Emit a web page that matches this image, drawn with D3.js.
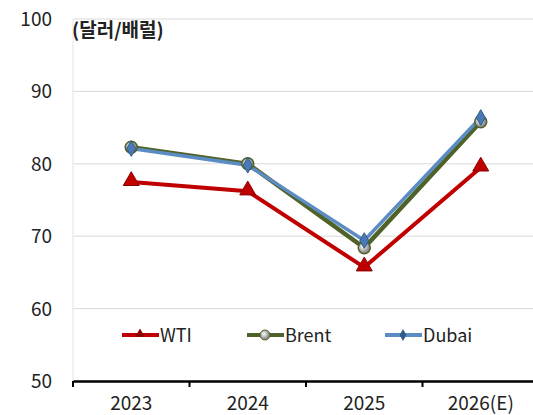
<!DOCTYPE html>
<html>
<head>
<meta charset="utf-8">
<script src="https://cdn.jsdelivr.net/npm/d3@7"></script>
<style>
  body { margin: 0; background: #fff; }
  text { font-family: "Noto Sans CJK KR", "Noto Sans", sans-serif; fill: #222; }
</style>
</head>
<body>
<svg id="ch" width="533" height="415"></svg>
<script>
var years = ["2023", "2024", "2025", "2026(E)"];
var wti   = [77.5, 76.2, 65.7, 79.5];
var brent = [82.3, 80.0, 68.4, 85.8];
var dubai = [82.1, 79.8, 69.4, 86.4];
var yTicks = [50, 60, 70, 80, 90, 100];
var unitLabel = "(달러/배럴)";

var svg = d3.select("#ch");
var pLeft = 73, pRight = 539, pTop = 19, pBottom = 381;

var x = d3.scaleBand().domain(years).range([pLeft, pRight]);
var y = d3.scaleLinear().domain([50, 100]).range([pBottom, pTop]);

// grid
svg.selectAll(".grid").data(yTicks.slice(1)).enter().append("line")
  .attr("x1", pLeft).attr("x2", 533)
  .attr("y1", function (d) { return y(d); }).attr("y2", function (d) { return y(d); })
  .style("stroke", "#d9d9d9").style("stroke-width", 1);
svg.append("line").attr("x1", pLeft).attr("x2", pLeft).attr("y1", pTop).attr("y2", pBottom)
  .style("stroke", "#e4e4e4");

// y labels
svg.selectAll(".yl").data(yTicks).enter().append("text")
  .attr("x", 52).attr("y", function (d) { return y(d) + 7; })
  .attr("text-anchor", "end").style("font-size", "19px")
  .text(function (d) { return d; });

// x axis
var xAxis = d3.axisBottom(x).tickSize(0).tickFormat("");
svg.append("g").attr("transform", "translate(0," + pBottom + ")").call(xAxis)
  .select(".domain").style("stroke", "#000").style("stroke-width", 2.5);
svg.selectAll(".xt").data(years.concat(["end"])).enter().append("line")
  .attr("x1", function (d, i) { return pLeft + i * x.bandwidth(); })
  .attr("x2", function (d, i) { return pLeft + i * x.bandwidth(); })
  .attr("y1", pBottom).attr("y2", pBottom + 6)
  .style("stroke", "#000").style("stroke-width", 2);
svg.selectAll(".xl").data(years).enter().append("text")
  .attr("x", function (d) { return x(d) + x.bandwidth() / 2; })
  .attr("y", 410).attr("text-anchor", "middle").style("font-size", "19px")
  .text(function (d) { return d; });

svg.append("text").attr("x", 72).attr("y", 37)
  .style("font-size", "19px").style("font-weight", "bold").text(unitLabel);

var cx = function (d, i) { return x(years[i]) + x.bandwidth() / 2; };
var line = d3.line().x(cx).y(function (d) { return y(d); });

// Brent
svg.append("path").attr("d", line(brent)).style("fill", "none")
  .style("stroke", "#4f6228").style("stroke-width", 4.5);
// Dubai
svg.append("path").attr("d", line(dubai)).style("fill", "none")
  .style("stroke", "#5b8cc4").style("stroke-width", 3.5);
// WTI
svg.append("path").attr("d", line(wti)).style("fill", "none")
  .style("stroke", "#c00000").style("stroke-width", 4);

var defs = svg.append("defs");
var g1 = defs.append("radialGradient").attr("id", "ball").attr("cx", "40%").attr("cy", "40%");
g1.append("stop").attr("offset", "0%").attr("stop-color", "#ffffff");
g1.append("stop").attr("offset", "100%").attr("stop-color", "#8a8a8a");

svg.selectAll(".bm").data(brent).enter().append("circle")
  .attr("cx", cx).attr("cy", function (d) { return y(d); }).attr("r", 6)
  .style("fill", "url(#ball)").style("stroke", "#4f6228").style("stroke-width", 1.5);
svg.selectAll(".dm").data(dubai).enter().append("path")
  .attr("transform", function (d, i) { return "translate(" + cx(d, i) + "," + y(d) + ")"; })
  .attr("d", d3.symbol().type(d3.symbolDiamond).size(70))
  .style("fill", "#4a7ab5").style("stroke", "#2e5a8c").style("stroke-width", 1);
svg.selectAll(".wm").data(wti).enter().append("path")
  .attr("transform", function (d, i) { return "translate(" + cx(d, i) + "," + (y(d) - 1) + ")"; })
  .attr("d", d3.symbol().type(d3.symbolTriangle).size(110))
  .style("fill", "#c00000").style("stroke", "#8b0000").style("stroke-width", 1);

// legend
var legend = [
  {name: "WTI", color: "#c00000", x: 122},
  {name: "Brent", color: "#4f6228", x: 247},
  {name: "Dubai", color: "#5b8cc4", x: 385}
];
var ly = 335;
legend.forEach(function (l, i) {
  svg.append("line").attr("x1", l.x).attr("x2", l.x + 37).attr("y1", ly).attr("y2", ly)
    .style("stroke", l.color).style("stroke-width", 4);
  var m = l.x + 18;
  if (i === 0) {
    svg.append("path").attr("transform", "translate(" + m + "," + (ly - 1) + ")")
      .attr("d", d3.symbol().type(d3.symbolTriangle).size(40)).style("fill", "#8b0000");
  } else if (i === 1) {
    svg.append("circle").attr("cx", m).attr("cy", ly).attr("r", 5)
      .style("fill", "url(#ball)").style("stroke", "#4f6228");
  } else {
    svg.append("path").attr("transform", "translate(" + m + "," + ly + ")")
      .attr("d", d3.symbol().type(d3.symbolDiamond).size(40)).style("fill", "#2e5a8c");
  }
  svg.append("text").attr("x", l.x + 38).attr("y", ly + 7)
    .style("font-size", "18px").text(l.name);
});
</script>
</body>
</html>
